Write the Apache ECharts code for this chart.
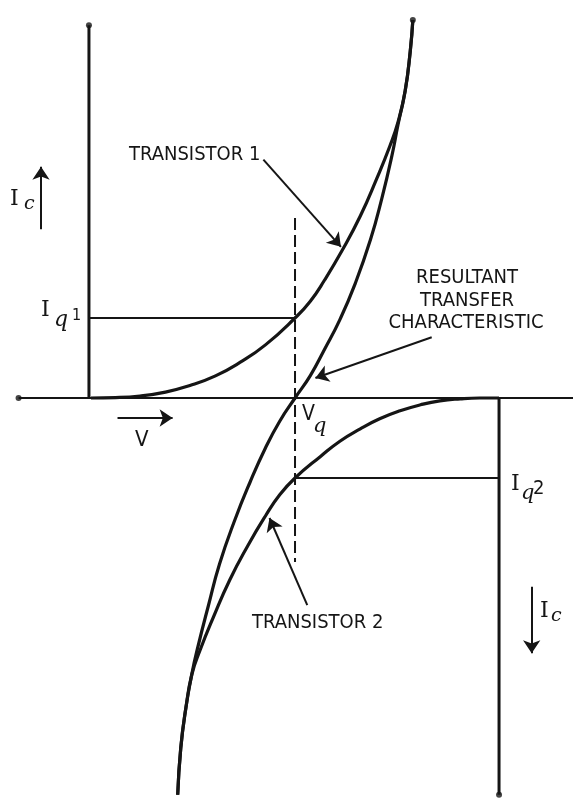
<!DOCTYPE html>
<html>
<head>
<meta charset="utf-8">
<script src="https://cdn.jsdelivr.net/npm/echarts/dist/echarts.min.js"></script>
<style>
    html, body { margin: 0; padding: 0; background: #fff; }
    #main { width: 573px; height: 798px; }
</style>
</head>
<body>
<div id="main"></div>
<script>
// V : 以Vq为0, Ic : 以Iq1为1
var t1V = [-2.0, -1.76, -1.52, -1.27, -1.03, -0.78, -0.54, -0.29, 0, 0.15, 0.29, 0.46, 0.64, 0.80, 0.93, 1.01, 1.08, 1.13, 1.155];
var t1I = [0, 0.005, 0.025, 0.074, 0.155, 0.276, 0.444, 0.664, 1.0, 1.21, 1.475, 1.84, 2.275, 2.74, 3.15, 3.45, 3.84, 4.34, 4.725];

var t2V = [2.0, 1.81, 1.62, 1.42, 1.23, 1.03, 0.83, 0.64, 0.44, 0.25, 0, -0.15, -0.29, -0.46, -0.64, -0.80, -0.93, -1.01, -1.07, -1.12, -1.15];
var t2I = [0, 0, -0.01, -0.035, -0.085, -0.16, -0.26, -0.385, -0.54, -0.73, -1.0, -1.21, -1.475, -1.84, -2.275, -2.74, -3.15, -3.45, -3.875, -4.375, -4.96];

var resV = [1.155, 1.13, 1.08, 1.01, 0.95, 0.85, 0.74, 0.59, 0.44, 0.29, 0.15, 0, -0.15, -0.29, -0.44, -0.59, -0.74, -0.85, -0.95, -1.01, -1.07, -1.12, -1.15];
var resI = [4.725, 4.34, 3.84, 3.42, 3.03, 2.49, 1.98, 1.43, 0.98, 0.61, 0.28, 0, -0.29, -0.625, -1.05, -1.525, -2.075, -2.60, -3.10, -3.44, -3.875, -4.375, -4.96];

var vq = 0;
var iq1 = 1.0;
var iq2 = -1.0;
var axisV = [-2.71, 2.73];      // V轴
var leftAxisI = [0, 4.66];      // 晶体管1 Ic轴
var rightAxisI = [0, -4.96];    // 晶体管2 Ic轴
var leftAxisV = -2.02;
var rightAxisV = 2.0;
var dashI = [2.25, -2.05];

var ink = '#151515';
var labelFont = "'DejaVu Sans Condensed', 'Liberation Sans Narrow', sans-serif";
var serifFont = "'DejaVu Serif', 'Liberation Serif', serif";

function zip(a, b) {
    var out = [];
    for (var i = 0; i < a.length; i++) {
        out.push([a[i], b[i]]);
    }
    return out;
}

function seg(data, width, type) {
    return {
        type: 'line',
        data: data,
        showSymbol: false,
        silent: true,
        lineStyle: { color: ink, width: width, type: type || 'solid' }
    };
}

function curve(v, i, width) {
    var s = seg(zip(v, i), width);
    s.smooth = 0.5;
    return s;
}

function txt(x, y, text, size, family, align, style) {
    return {
        type: 'text',
        x: x,
        y: y,
        silent: true,
        style: {
            text: text,
            fontSize: size,
            fontFamily: family,
            fontStyle: style || 'normal',
            fill: ink,
            align: align || 'left',
            textAlign: align || 'left',
            verticalAlign: 'middle',
            textVerticalAlign: 'middle'
        }
    };
}

var myChart = echarts.init(document.getElementById('main'));//获取容器

var arrows = [
    { coords: [[-1.74, -0.25], [-1.20, -0.25]] },   // V 方向
    { coords: [[-2.49, 2.11], [-2.49, 2.89]] },     // Ic 上
    { coords: [[2.32, -2.36], [2.32, -3.19]] },     // Ic 下
    { coords: [[-0.31, 2.98], [0.45, 1.89]] },      // TRANSISTOR 1
    { coords: [[1.34, 0.76], [0.20, 0.25]] },       // RESULTANT
    { coords: [[0.12, -2.59], [-0.25, -1.50]] }     // TRANSISTOR 2
];

myChart.setOption({
    animation: false,
    backgroundColor: '#fff',
    grid: { left: 0, right: 0, top: 0, bottom: 0 },
    xAxis: { type: 'value', min: -2.892, max: 2.725, show: false },
    yAxis: { type: 'value', min: -5.0, max: 4.975, show: false },
    series: [
        seg([[axisV[0], 0], [axisV[1], 0]], 2),
        seg([[leftAxisV, leftAxisI[0]], [leftAxisV, leftAxisI[1]]], 3),
        seg([[rightAxisV, rightAxisI[0]], [rightAxisV, rightAxisI[1]]], 3),
        seg([[leftAxisV, iq1], [vq, iq1]], 2),
        seg([[vq, iq2], [rightAxisV, iq2]], 2),
        seg([[vq, dashI[0]], [vq, dashI[1]]], 2, [12, 5]),
        curve(t1V, t1I, 3.2),
        curve(t2V, t2I, 3.2),
        curve(resV, resI, 3.2),
        {
            type: 'scatter',
            silent: true,
            symbolSize: 6,
            itemStyle: { color: ink },
            data: [[axisV[0], 0], [leftAxisV, leftAxisI[1]], [rightAxisV, rightAxisI[1]], [1.155, 4.725]]
        },
        {
            type: 'lines',
            coordinateSystem: 'cartesian2d',
            silent: true,
            symbol: ['none', 'arrow'],
            symbolSize: [0, 13],
            lineStyle: { color: ink, width: 2, opacity: 1 },
            data: arrows
        }
    ],
    graphic: [
        txt(129, 155, 'TRANSISTOR 1', 20, labelFont),
        txt(467, 278, 'RESULTANT', 20, labelFont, 'center'),
        txt(467, 301, 'TRANSFER', 20, labelFont, 'center'),
        txt(466, 323, 'CHARACTERISTIC', 20, labelFont, 'center'),
        txt(252, 623, 'TRANSISTOR 2', 20, labelFont),
        txt(135, 440, 'V', 22, labelFont),
        txt(302, 415, 'V', 21, labelFont),
        txt(313, 427, 'q', 21, serifFont, 'left', 'italic'),
        txt(41, 310, 'I', 22, serifFont),
        txt(54, 320, 'q', 22, serifFont, 'left', 'italic'),
        txt(72, 316, '1', 16, labelFont),
        txt(511, 484, 'I', 22, serifFont),
        txt(521, 494, 'q', 21, serifFont, 'left', 'italic'),
        txt(533, 489, '2', 20, labelFont),
        txt(10, 199, 'I', 22, serifFont),
        txt(24, 204, 'c', 19, serifFont, 'left', 'italic'),
        txt(540, 611, 'I', 22, serifFont),
        txt(551, 616, 'c', 19, serifFont, 'left', 'italic')
    ]
});
</script>
</body>
</html>
